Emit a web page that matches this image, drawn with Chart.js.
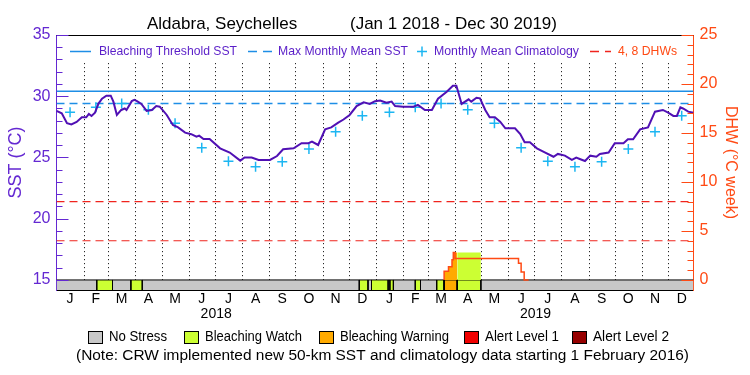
<!DOCTYPE html>
<html lang="en">
<head>
<meta charset="UTF-8">
<title>Aldabra, Seychelles</title>
<script src="https://cdn.jsdelivr.net/npm/chart.js"></script>
<style>
  html, body { margin: 0; padding: 0; background: #fff; }
  .chart-box { position: relative; width: 750px; height: 375px; }
</style>
</head>
<body>
<div class="chart-box"><canvas id="dhwChart"></canvas></div>
<script>
// x values are days counted from Jan 1 2018
const xMax = 728;
const monthLetters = ['J', 'F', 'M', 'A', 'M', 'J', 'J', 'A', 'S', 'O', 'N', 'D'];
const yearLabels = ['2018', '2019'];
const sstTicks = [15, 20, 25, 30, 35];
const dhwTicks = [0, 5, 10, 15, 20, 25];

const thresholdSST = 30.4;
const mmmSST = 29.4;
const dhwLevels = [4, 8];

const sstDays = [0, 6, 12, 17, 23, 29, 34, 37, 40, 44, 48, 52, 57, 62, 65, 69, 74, 78, 80, 86,
  89, 92, 97, 103, 109, 114, 118, 126, 133, 139, 147, 154, 160, 163, 168, 175, 187, 198, 210, 215,
  223, 231, 244, 252, 259, 271, 280, 288, 292, 299, 307, 314, 322, 328, 335, 343, 351, 358, 364, 370,
  377, 383, 387, 396, 408, 413, 421, 429, 436, 446, 453, 457, 463, 471, 474, 480, 484, 490, 495, 501,
  507, 513, 524, 530, 535, 541, 549, 558, 568, 573, 581, 589, 594, 598, 604, 610, 617, 621, 631, 638,
  648, 653, 659, 667, 676, 684, 693, 699, 705, 709, 713, 716, 722, 728];
const sstValues = [28.8, 28.6, 27.8, 27.7, 27.9, 28.28, 28.28, 28.55, 28.39, 28.66, 29.4, 29.8, 30.05, 30.05, 29.56, 28.47, 28.88, 29.0, 28.88, 29.6,
  29.7, 29.6, 29.37, 28.8, 28.88, 29.2, 29.15, 28.47, 27.65, 27.46, 27.03, 26.9, 26.7, 26.78, 26.5, 26.5, 25.75, 25.4, 24.74, 25.0,
  25.0, 24.8, 24.8, 25.12, 25.67, 25.75, 26.16, 26.16, 26.29, 26.02, 27.3, 27.46, 27.84, 28.1, 28.47, 29.2, 29.5, 29.37, 29.6, 29.65,
  29.47, 29.56, 29.2, 29.15, 29.15, 29.29, 28.88, 28.88, 29.8, 30.37, 30.86, 30.86, 29.37, 29.75, 29.56, 29.88, 29.83, 28.88, 28.28, 28.28,
  27.92, 27.38, 27.38, 26.92, 26.24, 26.24, 25.75, 25.42, 25.06, 25.29, 25.15, 24.8, 24.99, 24.88, 24.71, 25.15, 25.06, 25.29, 25.4, 26.16,
  26.16, 26.48, 26.48, 27.3, 27.46, 28.74, 28.88, 28.66, 28.39, 28.39, 29.1, 29.0, 28.74, 28.66];

// monthly mean climatology, Jan..Dec
const climValues = [28.7, 29.1, 29.4, 28.9, 27.8, 25.8, 24.7, 24.25, 24.65, 25.7, 27.1, 28.4];

// degree heating weeks (step values, each holds until the next day listed)
const dhwDays = [443, 443, 448, 452, 453.5, 455.5, 528, 531, 534.5, 539.5];
const dhwValues = [0, 0.6, 0.9, 1.35, 2.05, 2.8, 2.2, 1.7, 0.8, 0];

// stress level periods (0 no stress, 1 watch, 2 warning, 3 alert 1, 4 alert 2)
const stressStart = [46, 85, 346, 360, 381, 410, 434.5, 443, 458];
const stressEnd = [64, 98, 356, 379, 385, 416, 443, 458, 485];
const stressLevel = [1, 1, 1, 1, 1, 1, 1, 2, 1];
const stressNames = ['No Stress', 'Bleaching Watch', 'Bleaching Warning', 'Alert Level 1', 'Alert Level 2'];
const stressColors = ['#c8c8c8', '#ccff33', '#ffaa00', '#f00000', '#960000'];

const purple = '#6428d2';
const lineColor = '#5010b4';
const blue = '#1e8ee6';
const cyan = '#1cb6f2';
const red = '#f0241e';
const orange = '#ff4a14';

// depth of the stress bar below 15 degC (and below 0 DHW)
const yMin = 14.18;
const y2Min = (yMin - 15) * 25 / 20;
const gridTop = 32.7;

const monthStarts = [];
for (let m = 0; m <= 24; m++) {
  monthStarts.push((Date.UTC(2018, m, 1) - Date.UTC(2018, 0, 1)) / 86400000);
}
const monthMids = monthStarts.slice(0, -1).map((d, i) => (d + monthStarts[i + 1]) / 2);
const yearMids = [(monthStarts[0] + monthStarts[12]) / 2, (monthStarts[12] + monthStarts[24]) / 2];

function dhwAt(t) {
  let v = 0;
  dhwDays.forEach((d, i) => { if (d <= t) v = dhwValues[i]; });
  return v;
}

function dhwFill(s, e) {
  const pts = [{ x: s, y: dhwAt(s) }];
  dhwDays.forEach((d, i) => { if (d > s && d < e) pts.push({ x: d, y: dhwValues[i] }); });
  pts.push({ x: e, y: dhwAt(e - 0.01) });
  return pts;
}

function flatLine(v) {
  return [{ x: 0, y: v }, { x: xMax, y: v }];
}

const datasets = [];

datasets.push({
  label: 'SST', order: 0, data: sstDays.map((d, i) => ({ x: d, y: sstValues[i] })),
  borderColor: lineColor, borderWidth: 2, pointRadius: 0, fill: false
});
datasets.push({
  label: 'Monthly Mean Climatology', order: 1, showLine: false,
  data: monthMids.map((d, i) => ({ x: d, y: climValues[i % 12] })),
  pointStyle: 'cross', pointRadius: 5, pointBorderWidth: 1.5, borderColor: cyan, backgroundColor: cyan
});
datasets.push({
  label: 'Bleaching Threshold SST', order: 2, data: flatLine(thresholdSST),
  borderColor: blue, borderWidth: 1.5, pointRadius: 0
});
datasets.push({
  label: 'Max Monthly Mean SST', order: 2, data: flatLine(mmmSST),
  borderColor: blue, borderWidth: 1.5, borderDash: [8, 5], pointRadius: 0
});
dhwLevels.forEach(v => datasets.push({
  label: v + ' DHW', order: 2, yAxisID: 'y2', data: flatLine(v),
  borderColor: red, borderWidth: 1.2, borderDash: [8, 5], pointRadius: 0
}));
datasets.push({
  label: 'DHW', order: 3, yAxisID: 'y2', stepped: 'after',
  data: dhwDays.map((d, i) => ({ x: d, y: dhwValues[i] })),
  borderColor: orange, borderWidth: 1.5, pointRadius: 0
});
stressStart.forEach((s, i) => {
  const pts = dhwFill(s, stressEnd[i]);
  if (pts.every(p => p.y === 0)) return;
  datasets.push({
    label: 'DHW fill', order: 4, yAxisID: 'y2', stepped: 'after', data: pts,
    borderWidth: 0, pointRadius: 0, fill: 'origin', backgroundColor: stressColors[stressLevel[i]]
  });
});

// stress bar
const edges = [];
stressStart.forEach((s, i) => {
  [s, stressEnd[i]].forEach(b => edges.push({ x: b, y: 15 }, { x: b, y: yMin }, { x: b, y: null }));
});
datasets.push({
  label: 'bar edges', order: 5, data: edges, borderColor: '#000', borderWidth: 1, pointRadius: 0
});
datasets.push({
  label: 'bar top', order: 5, data: flatLine(15), borderColor: '#000', borderWidth: 1, pointRadius: 0
});
stressStart.forEach((s, i) => datasets.push({
  label: stressNames[stressLevel[i]], order: 6, data: [{ x: s, y: 15 }, { x: stressEnd[i], y: 15 }],
  borderWidth: 0, pointRadius: 0, fill: { value: yMin }, backgroundColor: stressColors[stressLevel[i]]
}));
datasets.push({
  label: stressNames[0], order: 7, data: flatLine(15),
  borderWidth: 0, pointRadius: 0, fill: { value: yMin }, backgroundColor: stressColors[0]
});

const decorations = {
  id: 'decorations',
  beforeDatasetsDraw(chart) {
    const { ctx, scales: { x, y } } = chart;
    const top = y.getPixelForValue(gridTop);
    const bottom = y.getPixelForValue(15);
    ctx.save();
    ctx.strokeStyle = '#000';
    ctx.lineWidth = 1;
    ctx.setLineDash([1, 3]);
    monthStarts.slice(1, -1).forEach(d => {
      const px = Math.round(x.getPixelForValue(d)) + 0.5;
      ctx.beginPath();
      ctx.moveTo(px, top);
      ctx.lineTo(px, bottom);
      ctx.stroke();
    });
    ctx.restore();
  },
  afterDraw(chart) {
    const { ctx, chartArea: area, scales: { y, y2 } } = chart;
    ctx.save();
    // frame top
    ctx.strokeStyle = '#000';
    ctx.lineWidth = 1;
    ctx.beginPath();
    ctx.moveTo(area.left, area.top + 0.5);
    ctx.lineTo(area.right, area.top + 0.5);
    ctx.stroke();
    // inward tick marks
    ctx.strokeStyle = purple;
    for (let v = 15; v <= 35; v++) {
      const py = Math.round(y.getPixelForValue(v)) + 0.5;
      ctx.beginPath();
      ctx.moveTo(area.left, py);
      ctx.lineTo(area.left + (v % 5 === 0 ? 12 : 6), py);
      ctx.stroke();
    }
    ctx.strokeStyle = orange;
    for (let v = 0; v <= 25; v++) {
      const py = Math.round(y2.getPixelForValue(v)) + 0.5;
      ctx.beginPath();
      ctx.moveTo(area.right, py);
      ctx.lineTo(area.right - (v % 5 === 0 ? 12 : 6), py);
      ctx.stroke();
    }
    // title
    ctx.fillStyle = '#000';
    ctx.textBaseline = 'alphabetic';
    ctx.font = "17px 'Liberation Sans', Arial, sans-serif";
    ctx.fillText('Aldabra, Seychelles', 147, 29, 159);
    ctx.fillText('(Jan 1 2018 - Dec 30 2019)', 350, 29, 252);
    // legend inside the plot
    const ly = 51.5;
    ctx.font = "13px 'Liberation Sans', Arial, sans-serif";
    ctx.textBaseline = 'middle';
    ctx.lineWidth = 1.5;
    ctx.strokeStyle = blue;
    ctx.beginPath(); ctx.moveTo(70, ly); ctx.lineTo(91, ly); ctx.stroke();
    ctx.setLineDash([9, 6]);
    ctx.beginPath(); ctx.moveTo(248, ly); ctx.lineTo(272, ly); ctx.stroke();
    ctx.strokeStyle = red;
    ctx.beginPath(); ctx.moveTo(590, ly); ctx.lineTo(611, ly); ctx.stroke();
    ctx.setLineDash([]);
    ctx.strokeStyle = cyan;
    ctx.beginPath();
    ctx.moveTo(417, ly); ctx.lineTo(427, ly);
    ctx.moveTo(422, ly - 5); ctx.lineTo(422, ly + 5);
    ctx.stroke();
    ctx.fillStyle = '#5a1ec8';
    ctx.fillText('Bleaching Threshold SST', 99, ly, 138);
    ctx.fillText('Max Monthly Mean SST', 278, ly, 130);
    ctx.fillText('Monthly Mean Climatology', 434, ly, 145);
    ctx.fillStyle = orange;
    ctx.fillText('4, 8 DHWs', 618, ly, 59);
    // stress legend
    const by = 337;
    const boxX = [88, 184, 319, 464, 572];
    const textW = [58, 97, 109, 74, 76];
    ctx.font = "14px 'Liberation Sans', Arial, sans-serif";
    ctx.lineWidth = 1;
    ctx.strokeStyle = '#000';
    stressNames.forEach((name, i) => {
      ctx.fillStyle = stressColors[i];
      ctx.fillRect(boxX[i] + 0.5, by - 6 + 0.5, 14, 12);
      ctx.strokeRect(boxX[i] + 0.5, by - 6 + 0.5, 14, 12);
      ctx.fillStyle = '#000';
      ctx.fillText(name, boxX[i] + 21, by, textW[i]);
    });
    ctx.font = "15.5px 'Liberation Sans', Arial, sans-serif";
    ctx.fillText('(Note: CRW implemented new 50-km SST and climatology data starting 1 February 2016)', 76, 356, 613);
    ctx.restore();
  }
};

Chart.defaults.font.family = "'Liberation Sans', Arial, sans-serif";

new Chart(document.getElementById('dhwChart'), {
  type: 'line',
  data: { datasets },
  options: {
    responsive: true,
    maintainAspectRatio: false,
    animation: false,
    layout: { padding: { top: 35, left: 0, right: 0, bottom: 0 } },
    elements: { line: { tension: 0 } },
    plugins: {
      legend: { display: false },
      title: { display: false },
      tooltip: { enabled: false }
    },
    scales: {
      x: {
        type: 'linear', min: 0, max: xMax, position: 'bottom', weight: 0,
        afterBuildTicks: s => { s.ticks = monthMids.map(v => ({ value: v })); },
        afterFit: s => { s.height = 16; },
        grid: { display: false, drawTicks: false },
        border: { display: true, color: '#000', width: 1 },
        ticks: {
          autoSkip: false, maxRotation: 0, padding: 1, color: '#000', font: { size: 14 },
          callback: (v, i) => monthLetters[i % 12]
        }
      },
      x2: {
        type: 'linear', min: 0, max: xMax, position: 'bottom', weight: 1,
        afterBuildTicks: s => { s.ticks = yearMids.map(v => ({ value: v })); },
        afterFit: s => { s.height = 69; },
        grid: { display: false, drawTicks: false },
        border: { display: false },
        ticks: {
          autoSkip: false, maxRotation: 0, padding: 0, color: '#000', font: { size: 14 },
          callback: (v, i) => yearLabels[i]
        }
      },
      y: {
        min: yMin, max: 35, position: 'left',
        afterBuildTicks: s => { s.ticks = sstTicks.map(v => ({ value: v })); },
        afterFit: s => { s.width = 56.5; },
        grid: { display: false, drawTicks: false },
        border: { display: true, color: purple, width: 1 },
        ticks: { padding: 6, color: purple, font: { size: 16 } },
        title: { display: true, text: 'SST (°C)', color: purple, font: { size: 18 }, padding: { top: 5, bottom: 0 } }
      },
      y2: {
        min: y2Min, max: 25, position: 'right',
        afterBuildTicks: s => { s.ticks = dhwTicks.map(v => ({ value: v })); },
        afterFit: s => { s.width = 56.5; },
        grid: { display: false, drawTicks: false },
        border: { display: true, color: orange, width: 1 },
        ticks: { padding: 6, color: orange, font: { size: 16 } },
        title: { display: true, text: 'DHW (°C week)', color: orange, font: { size: 16 }, padding: { top: 10, bottom: 0 } }
      }
    }
  },
  plugins: [decorations]
});
</script>
</body>
</html>
